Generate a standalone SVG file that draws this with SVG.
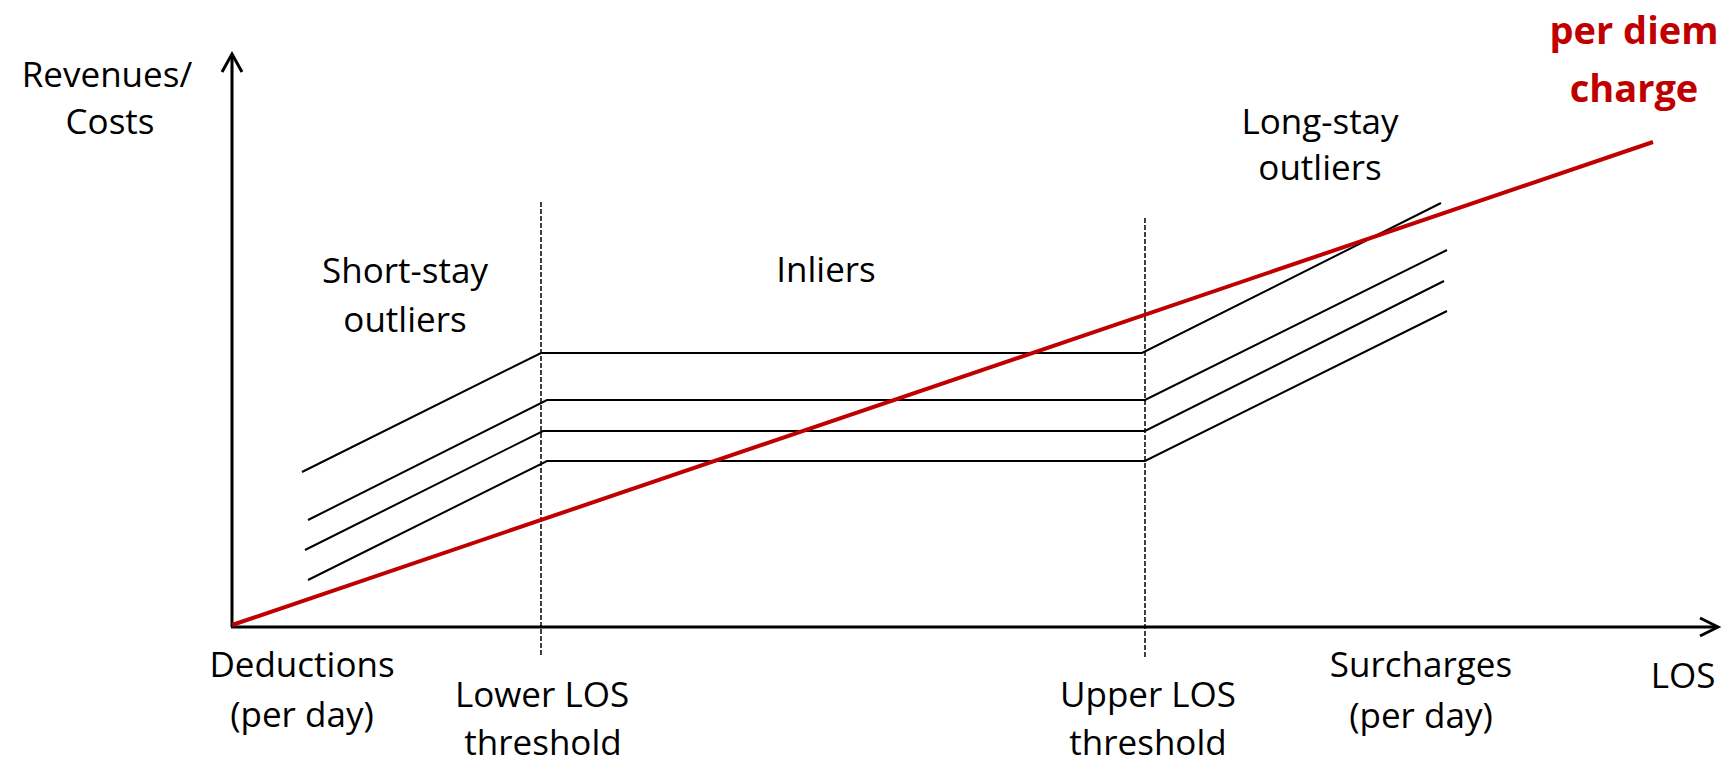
<svg xmlns="http://www.w3.org/2000/svg" width="1733" height="762" viewBox="0 0 1733 762">
<style>
.t{font-family:"Open Sans","Liberation Sans",sans-serif;font-size:35px;fill:#000;text-anchor:middle}
.r{font-family:"Open Sans","Liberation Sans",sans-serif;font-size:38px;font-weight:bold;fill:#C00000;text-anchor:middle}
.ax{stroke:#000;stroke-width:3;fill:none}
.ln{stroke:#000;stroke-width:2;fill:none;stroke-linejoin:miter}
.ds{stroke:#000;stroke-width:1.5;stroke-dasharray:5 2;fill:none}
.red{stroke:#C00000;stroke-width:4;fill:none}
</style>
<rect width="1733" height="762" fill="#fff"/>
<g id="axes">
<line class="ax" x1="232" y1="627" x2="232" y2="54"/>
<polyline class="ax" points="222,72 232,54 242,72"/>
<line class="ax" x1="231" y1="627" x2="1717" y2="627"/>
<polyline class="ax" points="1700,618 1718,627 1700,636"/>
</g>
<g id="thresholds">
<line class="ds" x1="541" y1="202" x2="541" y2="655"/>
<line class="ds" x1="1145" y1="218" x2="1145" y2="658"/>
</g>
<g id="connectors">
<polyline class="ln" points="302,472 541,353 1142,353 1441,203"/>
<polyline class="ln" points="308,520 547,400 1145,400 1447,250"/>
<polyline class="ln" points="305,550 543,431 1145,431 1444,281"/>
<polyline class="ln" points="308,580 547,461 1145,461 1447,311"/>
<line class="red" x1="232" y1="625" x2="1653" y2="142"/>
</g>
<g id="label-revenues">
<text class="t" x="107" y="87">Revenues/</text>
<text class="t" x="110" y="134">Costs</text>
</g>
<g id="label-perdiem">
<text class="r" x="1634" y="44">per diem</text>
<text class="r" x="1634" y="102">charge</text>
</g>
<g id="label-longstay">
<text class="t" x="1320" y="134">Long-stay</text>
<text class="t" x="1320" y="180">outliers</text>
</g>
<g id="label-shortstay">
<text class="t" x="405" y="283">Short-stay</text>
<text class="t" x="405" y="332">outliers</text>
</g>
<g id="label-inliers">
<text class="t" x="826" y="282">Inliers</text>
</g>
<g id="label-deductions">
<text class="t" x="302" y="677">Deductions</text>
<text class="t" x="302" y="727">(per day)</text>
</g>
<g id="label-lower">
<text class="t" x="542" y="707">Lower LOS</text>
<text class="t" x="543" y="755">threshold</text>
</g>
<g id="label-upper">
<text class="t" x="1148" y="707">Upper LOS</text>
<text class="t" x="1148" y="755">threshold</text>
</g>
<g id="label-surcharges">
<text class="t" x="1421" y="677">Surcharges</text>
<text class="t" x="1421" y="728">(per day)</text>
</g>
<g id="label-los">
<text class="t" x="1683" y="688">LOS</text>
</g>
</svg>
